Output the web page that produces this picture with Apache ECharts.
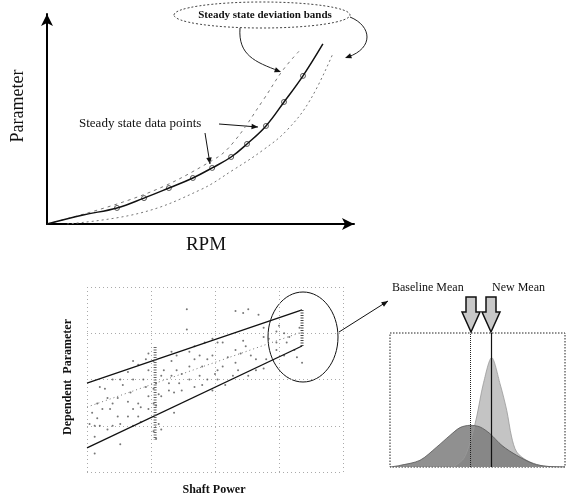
<!DOCTYPE html>
<html>
<head>
<meta charset="utf-8">
<script src="https://cdn.jsdelivr.net/npm/echarts@6/dist/echarts.min.js"></script>
<style>
  html, body { margin: 0; padding: 0; background: #fff; }
  #main { width: 568px; height: 498px; }
</style>
</head>
<body>
<div id="main"></div>
<script>
// top chart: parameter vs RPM
const rpmPoints = [22.5, 31.2, 39.2, 46.9, 53.1, 59.2, 64.3, 70.4, 76.2, 82.3];
const paramPoints = [7.5, 12.1, 16.8, 21.5, 26.2, 31.3, 37.4, 45.8, 57.0, 69.2];
const curveRpm = [0, 11.6, 22.5, 31.2, 39.2, 46.9, 53.1, 59.2, 64.3, 70.4, 76.2, 82.3, 88.7];
const curveParam = [0, 4.2, 7.5, 12.1, 16.8, 21.5, 26.2, 31.3, 37.4, 45.8, 57.0, 69.2, 84.1];
const upperRpm = [0, 30.9, 53.4, 59.8, 69.5, 75.9, 81.4];
const upperParam = [0, 13.6, 29.9, 37.9, 57.9, 72.0, 81.3];
const lowerRpm = [6.4, 29.9, 49.2, 59.8, 69.5, 77.2, 84.6, 92.0];
const lowerParam = [0, 5.1, 15.9, 25.2, 34.6, 43.9, 57.9, 79.9];

// bottom left: dependent parameter vs shaft power
const shaftPower = [39, 58, 61, 63, 67, 69, 39, 46, 49, 51, 40, 35, 33, 24, 23, 20, 18, 13, 14, 5, 7, 4, 2, 1, 3, 4, 9, 10, 12, 16, 17, 20, 21, 20, 24, 26, 29, 30, 32, 33, 35, 37, 40, 42, 44, 45, 47, 49, 51, 53, 55, 58, 60, 62, 64, 66, 69, 71, 74, 75, 77, 78, 79, 81, 82, 83, 84, 77, 74, 70, 66, 63, 59, 57, 54, 51, 50, 47, 45, 42, 40, 37, 34, 32, 29, 26, 24, 21, 18, 16, 13, 10, 8, 5, 3, 3, 13, 29, 34, 28, 36, 33, 24, 22, 18, 16, 10, 8, 6, 12, 18, 23, 42, 53, 44, 49, 58, 61, 69, 74, 26, 27, 27, 26, 27, 28];
const depParam = [88, 87, 86, 88, 85, 78, 77, 70, 72, 70, 65, 63, 60, 64, 61, 58, 60, 50, 47, 46, 45, 37, 32, 26, 25, 29, 34, 37, 40, 38, 43, 37, 35, 30, 41, 45, 52, 55, 48, 52, 55, 53, 57, 61, 63, 57, 61, 63, 55, 57, 62, 66, 64, 68, 63, 61, 73, 72, 76, 79, 75, 70, 73, 66, 62, 78, 59, 63, 66, 61, 55, 52, 55, 52, 47, 50, 53, 50, 47, 46, 50, 44, 43, 44, 41, 37, 34, 27, 25, 30, 26, 25, 23, 25, 19, 10, 15, 23, 32, 26, 48, 65, 55, 50, 50, 54, 50, 40, 34, 30, 34, 46, 68, 70, 52, 44, 59, 71, 56, 70, 60, 48, 36, 22, 18, 42];
const fitX = [0, 84];
const upperFit = [48.1, 87.6];
const midFit = [35.1, 75.7];
const lowerFit = [13.0, 68.1];
const hatchLeftX = 26.6;
const hatchLeftY = [67.6, 17.3];
const hatchRightX = 84;
const hatchRightY = [87.6, 68.1];

// bottom right: distributions
const baseX = [0, 5.7, 17.1, 26.7, 34.3, 40, 45.7, 51.4, 57.1, 64, 72.4, 81.9, 89.5, 100];
const baseY = [0, 1.2, 5.0, 14.9, 23.6, 29.4, 31.1, 29.9, 24.9, 16.0, 8.7, 2.5, 0.5, 0];
const newX = [36, 42, 45.7, 49.5, 53.3, 58.1, 62.9, 66.7, 69.5, 72.4, 78.1, 85.7, 92, 100];
const newY = [0, 6, 18, 37.3, 62, 81.6, 62, 42.3, 22.4, 11.2, 5.0, 1.2, 0.3, 0];
const baselineMean = 45.7;
const newMean = 57.7;

const zip = (xs, ys) => xs.map((x, i) => [x, ys[i]]);
const serif = '"Liberation Serif", "DejaVu Serif", serif';

function arrow(x1, y1, x2, y2, s) {
    s = s || 7;
    const a = Math.atan2(y2 - y1, x2 - x1);
    return [
        { type: 'line', shape: { x1: x1, y1: y1, x2: x2, y2: y2 }, style: { stroke: '#111', lineWidth: 1 } },
        head(x2, y2, a, s)
    ];
}
function head(x, y, a, s) {
    return {
        type: 'polygon',
        shape: { points: [[x, y], [x - s * Math.cos(a - 0.4), y - s * Math.sin(a - 0.4)], [x - s * Math.cos(a + 0.4), y - s * Math.sin(a + 0.4)]] },
        style: { fill: '#111' }
    };
}
function blockArrow(cx) {
    return {
        type: 'polygon',
        shape: { points: [[cx - 5, 297], [cx + 5, 297], [cx + 5, 312], [cx + 9, 312], [cx, 332], [cx - 9, 312], [cx - 5, 312]] },
        style: { fill: '#c8c8c8', stroke: '#111', lineWidth: 1.5 }
    };
}

const hiddenAxis = {
    axisTick: { show: false },
    axisLabel: { show: false },
    splitLine: { show: false }
};
const arrowLine = {
    show: true,
    symbol: ['none', 'arrow'],
    symbolSize: [9, 12],
    lineStyle: { color: '#000', width: 2 }
};
const faintGrid = { show: true, lineStyle: { type: [1, 3], color: '#aaa' } };

let mychart = echarts.init(document.getElementById('main'));
let option = {
    animation: false,
    backgroundColor: '#fff',
    grid: [
        { left: 47, top: 14, width: 307, height: 210 },
        { left: 87, top: 287, width: 256, height: 185 },
        { left: 390, top: 333, width: 175, height: 134 }
    ],
    xAxis: [
        Object.assign({ gridIndex: 0, type: 'value', min: 0, max: 98.7, axisLine: arrowLine }, hiddenAxis),
        Object.assign({ gridIndex: 1, type: 'value', min: 0, max: 100, interval: 25, axisLine: { show: false } }, hiddenAxis, { splitLine: faintGrid }),
        Object.assign({ gridIndex: 2, type: 'value', min: 0, max: 100, axisLine: { show: false } }, hiddenAxis)
    ],
    yAxis: [
        Object.assign({ gridIndex: 0, type: 'value', min: 0, max: 98.1, axisLine: arrowLine }, hiddenAxis),
        Object.assign({ gridIndex: 1, type: 'value', min: 0, max: 100, interval: 25, axisLine: { show: false } }, hiddenAxis, { splitLine: faintGrid }),
        Object.assign({ gridIndex: 2, type: 'value', min: 0, max: 100, axisLine: { show: false } }, hiddenAxis)
    ],
    series: [
        {
            type: 'line', xAxisIndex: 0, yAxisIndex: 0, data: zip(upperRpm, upperParam), smooth: 0.4, showSymbol: false,
            lineStyle: { color: '#777', width: 1, type: [3, 4] }
        },
        {
            type: 'line', xAxisIndex: 0, yAxisIndex: 0, data: zip(lowerRpm, lowerParam), smooth: 0.4, showSymbol: false,
            lineStyle: { color: '#777', width: 1, type: [2, 3] }
        },
        {
            type: 'line', xAxisIndex: 0, yAxisIndex: 0, data: zip(curveRpm, curveParam), smooth: 0.4, showSymbol: false,
            lineStyle: { color: '#111', width: 1.5 }
        },
        {
            type: 'scatter', xAxisIndex: 0, yAxisIndex: 0, data: zip(rpmPoints, paramPoints), symbolSize: 5,
            itemStyle: { color: '#fff', borderColor: '#333', borderWidth: 1 }
        },
        {
            type: 'scatter', xAxisIndex: 1, yAxisIndex: 1, data: zip(shaftPower, depParam), symbolSize: 2,
            itemStyle: { color: '#555' }
        },
        {
            type: 'line', xAxisIndex: 1, yAxisIndex: 1, data: zip(fitX, upperFit), showSymbol: false,
            lineStyle: { color: '#111', width: 1.3 }
        },
        {
            type: 'line', xAxisIndex: 1, yAxisIndex: 1, data: zip(fitX, lowerFit), showSymbol: false,
            lineStyle: { color: '#111', width: 1.3 }
        },
        {
            type: 'line', xAxisIndex: 1, yAxisIndex: 1, data: zip(fitX, midFit), showSymbol: false,
            lineStyle: { color: '#777', width: 1, type: [1, 3] }
        },
        {
            type: 'line', xAxisIndex: 1, yAxisIndex: 1, data: hatchLeftY.map(y => [hatchLeftX, y]), showSymbol: false,
            lineStyle: { color: '#666', width: 3, type: [1, 1.5] }
        },
        {
            type: 'line', xAxisIndex: 1, yAxisIndex: 1, data: hatchRightY.map(y => [hatchRightX, y]), showSymbol: false,
            lineStyle: { color: '#444', width: 3, type: [1, 1.5] }
        },
        {
            type: 'line', xAxisIndex: 2, yAxisIndex: 2, data: zip(newX, newY), smooth: 0.3, showSymbol: false,
            lineStyle: { color: '#999', width: 0.8 },
            areaStyle: { color: '#c4c4c4', opacity: 1 }
        },
        {
            type: 'line', xAxisIndex: 2, yAxisIndex: 2, data: zip(baseX, baseY), smooth: 0.3, showSymbol: false,
            lineStyle: { color: '#555', width: 0.8 },
            areaStyle: { color: '#7d7d7d', opacity: 0.85 },
            markLine: {
                symbol: 'none', silent: true, label: { show: false },
                data: [
                    { xAxis: baselineMean, lineStyle: { color: '#222', width: 1, type: 'dotted' } },
                    { xAxis: newMean, lineStyle: { color: '#111', width: 1.2, type: 'solid' } }
                ]
            }
        }
    ],
    graphic: [
        // top annotations
        { type: 'ellipse', shape: { cx: 262, cy: 15, rx: 88, ry: 13 }, style: { fill: 'none', stroke: '#444', lineWidth: 1, lineDash: [2, 2] } },
        { type: 'text', x: 265, y: 15, style: { text: 'Steady state deviation bands', font: 'bold 11px ' + serif, fill: '#111', align: 'center', verticalAlign: 'middle' } },
        { type: 'bezierCurve', shape: { x1: 240, y1: 28, cpx1: 238, cpy1: 55, cpx2: 255, cpy2: 62, x2: 279, y2: 71 }, style: { fill: 'none', stroke: '#222', lineWidth: 1 } },
        head(281, 72, 0.35, 7),
        { type: 'bezierCurve', shape: { x1: 350, y1: 17, cpx1: 372, cpy1: 26, cpx2: 374, cpy2: 48, x2: 348, y2: 57 }, style: { fill: 'none', stroke: '#222', lineWidth: 1 } },
        head(345, 58, Math.PI - 0.35, 7),
        { type: 'text', x: 79, y: 124, style: { text: 'Steady state data points', font: '13px ' + serif, fill: '#111', align: 'left', verticalAlign: 'middle' } },
        ...arrow(219, 124, 258, 127),
        ...arrow(205, 133, 210, 164),
        { type: 'text', x: 18, y: 106, rotation: Math.PI / 2, style: { text: 'Parameter', font: '18px ' + serif, fill: '#111', align: 'center', verticalAlign: 'middle' } },
        { type: 'text', x: 206, y: 245, style: { text: 'RPM', font: '19px ' + serif, fill: '#111', align: 'center', verticalAlign: 'middle' } },
        // bottom left annotations
        { type: 'text', x: 68, y: 377, rotation: Math.PI / 2, style: { text: 'Dependent  Parameter', font: 'bold 12px ' + serif, fill: '#111', align: 'center', verticalAlign: 'middle' } },
        { type: 'text', x: 214, y: 490, style: { text: 'Shaft Power', font: 'bold 12px ' + serif, fill: '#111', align: 'center', verticalAlign: 'middle' } },
        { type: 'ellipse', shape: { cx: 303, cy: 337, rx: 35, ry: 45 }, style: { fill: 'none', stroke: '#111', lineWidth: 1 } },
        ...arrow(339, 332, 388, 301),
        // bottom right annotations
        { type: 'rect', shape: { x: 390, y: 333, width: 175, height: 134 }, style: { fill: 'none', stroke: '#222', lineWidth: 1, lineDash: [1.5, 1.5] } },
        { type: 'text', x: 392, y: 288, style: { text: 'Baseline Mean', font: '12px ' + serif, fill: '#111', align: 'left', verticalAlign: 'middle' } },
        { type: 'text', x: 492, y: 288, style: { text: 'New Mean', font: '12px ' + serif, fill: '#111', align: 'left', verticalAlign: 'middle' } },
        blockArrow(471),
        blockArrow(491)
    ]
};
mychart.setOption(option);
window.addEventListener('resize', () => {
    mychart.resize();
});
</script>
</body>
</html>
